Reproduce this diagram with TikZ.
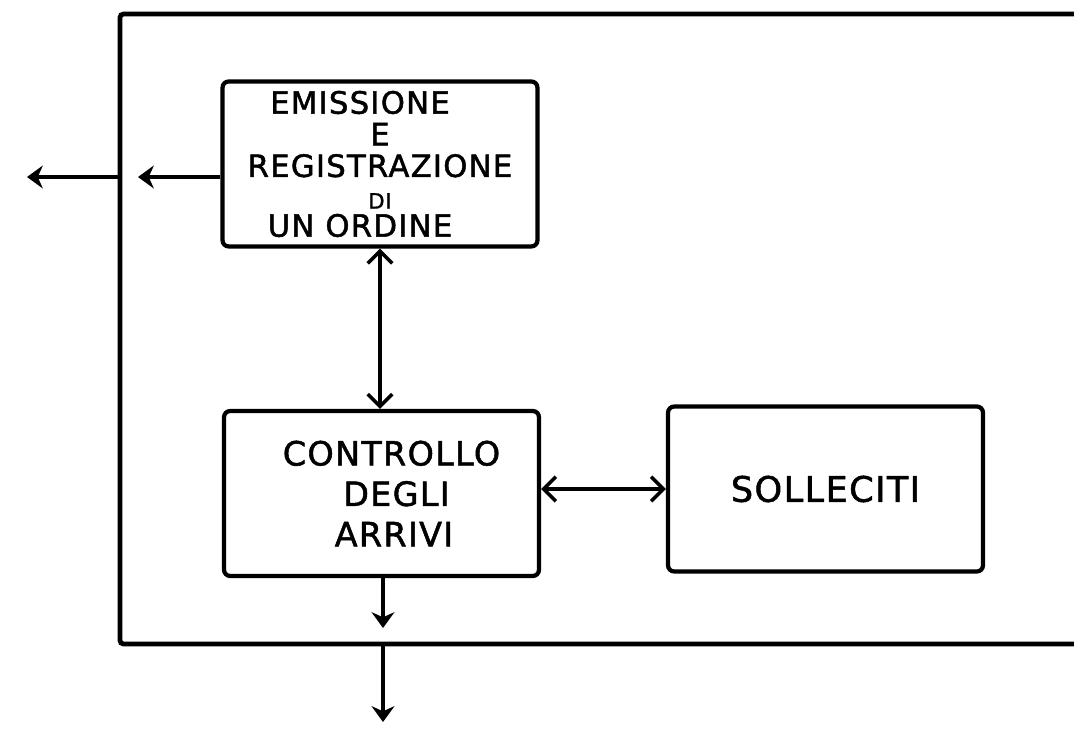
\documentclass[tikz,border=0pt]{standalone}
\usepackage{fontspec}
\setmainfont{DejaVu Sans}
\usepackage{tikz}
\usetikzlibrary{arrows.meta, positioning, calc}
\newfontfamily\handfont[LetterSpace=4, FakeBold=1.5]{DejaVu Sans}

\tikzset{
  block/.style={draw, line width=2.4pt, rounded corners=3.5pt,
    minimum width=6.3cm, minimum height=3.3cm, align=center},
  flow/.style={line width=2pt, -{Stealth[length=9pt,width=13pt]}},
  dflow/.style={line width=2pt,
    {Straight Barb[length=7pt,width=14pt]}-{Straight Barb[length=7pt,width=14pt]}}
}

\begin{document}
\begin{tikzpicture}[x=0.02cm, y=-0.02cm]
\useasboundingbox (0,0) rectangle (1074,732);
% Frame
\draw[line width=2.7pt, rounded corners=2pt] (1074,14) -| (120,644) -- (1074,644);
\coordinate (frameL) at (120,177);
\coordinate (frameB) at (383,644);
% Boxes
\node[block, font=\handfont\fontsize{17.5}{19}\selectfont] (emiss) at (380,164)
  {EMISSIONE\hspace*{0.8cm}\\[-1pt]E\hspace*{1.2cm}\\[-1pt]REGISTRAZIONE\\[-1pt]
   {\fontsize{12}{14}\selectfont DI}\hspace*{0.6cm}\\[-3pt]UN ORDINE\hspace*{0.8cm}};
\node[block, font=\handfont\fontsize{19}{23}\selectfont] (contr) at (381.5,493.5)
  {\hspace*{0.4cm}CONTROLLO\\ \hspace*{0.6cm}DEGLI\\ \hspace*{0.5cm}ARRIVI};
\node[block, font=\handfont\fontsize{20}{24}\selectfont] (soll) at (825.5,489)
  {SOLLECITI};
% Arrows
\coordinate (in1) at (138,177);
\coordinate (out1) at (27,177);
\coordinate (in2) at (383,628);
\coordinate (out2) at (383,722);
\draw[flow] (emiss.west |- in1) -- (in1);
\draw[flow] (frameL) -- (out1);
\draw[dflow] (emiss.south) -- (emiss.south |- contr.north);
\draw[dflow] (soll.west -| contr.east) -- (soll.west);
\draw[flow] (contr.south -| in2) -- (in2);
\draw[flow] (frameB) -- (out2);
\end{tikzpicture}
\end{document}
